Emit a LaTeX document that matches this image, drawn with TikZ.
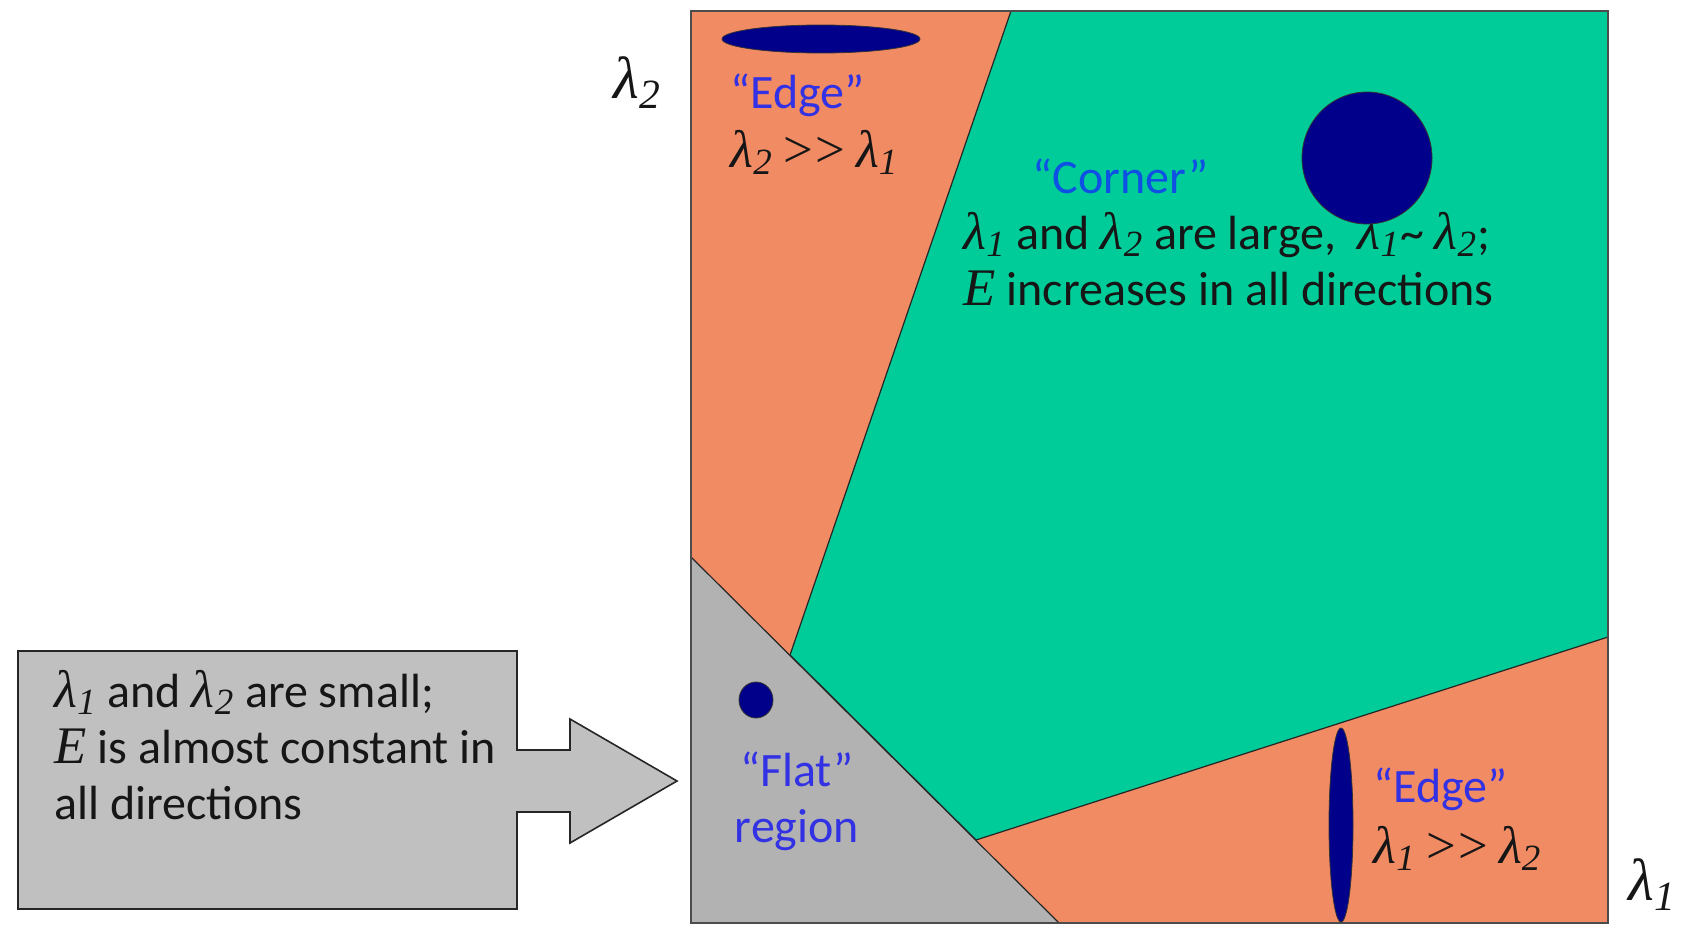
\documentclass[tikz,border=0pt]{standalone}
\usepackage{fontspec}
\setmainfont{Carlito}
\newfontfamily\lamfont[Scale=1.1]{Liberation Serif}
\usetikzlibrary{calc}
\definecolor{edgeorange}{RGB}{241,139,100}
\definecolor{cornergreen}{RGB}{0,204,153}
\definecolor{flatgray}{RGB}{178,178,178}
\definecolor{calloutgray}{RGB}{192,192,192}
\definecolor{navyblob}{RGB}{0,0,139}
\definecolor{tagblue}{RGB}{50,50,228}
\definecolor{cornerblue}{RGB}{15,80,228}
\definecolor{textdark}{RGB}{22,22,22}
\newcommand{\lam}[1]{{\lamfont\itshape λ\textsubscript{#1}}}
\newcommand{\Ev}{{\lamfont\itshape E}}
\newcommand{\muchmore}{{\lamfont >\kern1pt>}}

\begin{document}
\begin{tikzpicture}[x=0.5pt,y=-0.5pt,
  region/.style={draw=black!85,line width=0.6pt},
  blob/.style={fill=navyblob,draw=black!80,line width=0.4pt},
  callout/.style={fill=calloutgray,draw=black!85,line width=0.8pt,line join=miter},
  txt/.style={inner sep=0pt,font=\fontsize{24}{28}\selectfont,text=textdark,align=left},
  tag/.style={txt,text=tagblue},
  axis/.style={inner sep=0pt,font=\fontsize{27}{32}\selectfont,text=textdark}]
\useasboundingbox (0,0) rectangle (1686,926);
\fill[edgeorange] (691,11) rectangle (1608,923);
\filldraw[region,fill=cornergreen] (1011,11) -- (1608,11) -- (1608,637) -- (976,840) -- (790,655) -- cycle;
\filldraw[region,fill=flatgray] (691,557) -- (1059,923) -- (691,923) -- cycle;
\draw[line width=1pt,draw=black!70] (691,11) rectangle (1608,923);
\filldraw[callout] (18,651) -- (517,651) -- (517,750) -- (570,750) -- (570,719) -- (677,781)
  -- (570,843) -- (570,812) -- (517,812) -- (517,909) -- (18,909) -- cycle;
\node[axis,anchor=base west] (lamtwo) at (613,98) {\lam{2}};
\node[axis,anchor=base west] (lamone) at (1628,900) {\lam{1}};
\node[tag,anchor=base west] (edgetop) at (730,108) {“Edge”};
\node[txt,anchor=base west] (edgetopcond) at (730,167) {\lam{2}\ \muchmore\ \lam{1}};
\node[txt,anchor=base west,text=cornerblue] (cornertag) at (1032,193) {“Corner”};
\node[txt,anchor=base west] (cornertext) at (963,305) {\lam{1} and \lam{2} are large,\ \ \lam{1}\textasciitilde\ \lam{2};\\ \Ev{} increases in all directions};
\node[tag,anchor=base,align=center] (flattag) at (797,842) {“Flat”\\region};
\node[tag,anchor=base west] (edgebot) at (1373,802) {“Edge”};
\node[txt,anchor=base west] (edgebotcond) at (1373,863) {\lam{1}\ \muchmore\ \lam{2}};
\node[txt,anchor=base west] (smalltext) at (54,819) {\lam{1} and \lam{2} are small;\\ \Ev{} is almost constant in\\ all directions};
\filldraw[blob] (821,39) ellipse [x radius=99, y radius=14];
\filldraw[blob] (1367,158) ellipse [x radius=65, y radius=66];
\filldraw[blob] (756,700) ellipse [x radius=17, y radius=18];
\filldraw[blob] (1341,825) ellipse [x radius=12, y radius=97];
\end{tikzpicture}
\end{document}
